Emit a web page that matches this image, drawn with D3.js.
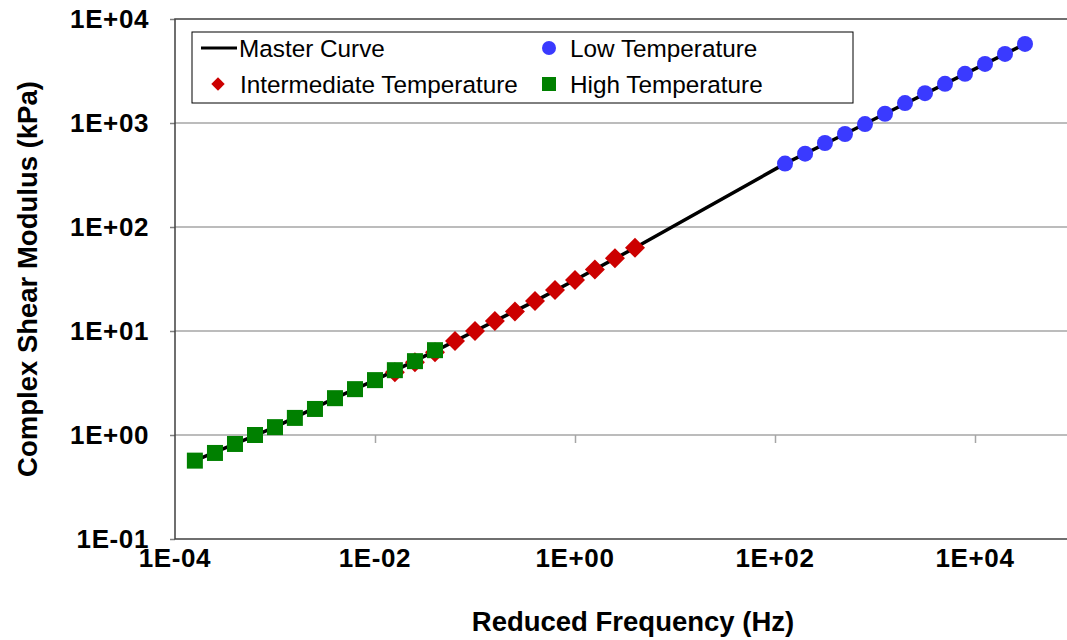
<!DOCTYPE html>
<html>
<head>
<meta charset="utf-8">
<script src="https://cdn.jsdelivr.net/npm/d3@7"></script>
<style>
  body { margin: 0; background: #fff; }
  svg { display: block; font-family: Arial, "Liberation Sans", sans-serif; }
</style>
</head>
<body>
<div id="chart"></div>
<script>
// data
const highFreq = [1.58e-4, 2.51e-4, 3.98e-4, 6.31e-4, 1e-3, 1.58e-3, 2.51e-3, 3.98e-3, 6.31e-3, 1e-2, 1.58e-2, 2.51e-2, 3.98e-2];
const highG = [0.567, 0.672, 0.82, 1.0, 1.19, 1.46, 1.78, 2.26, 2.76, 3.37, 4.2, 5.13, 6.54];

const interFreq = [1.58e-2, 2.51e-2, 3.98e-2, 6.31e-2, 0.1, 0.158, 0.251, 0.398, 0.631, 1, 1.58, 2.51, 3.98];
const interG = [4.02, 5.01, 6.25, 8.03, 10.0, 12.5, 15.4, 19.4, 24.8, 30.9, 39.1, 50.2, 63.1];

const lowFreq = [126, 200, 316, 501, 794, 1259, 1995, 3162, 5012, 7943, 12589, 19953, 31623];
const lowG = [407, 507, 642, 784, 977, 1227, 1553, 1937, 2380, 2970, 3700, 4616, 5758];

const masterFreq = [1.58e-4, 3.98e-4, 1e-3, 3.98e-3, 1e-2, 3.98e-2, 0.1, 0.398, 1, 3.98, 126, 501, 1259, 5012, 31623];
const masterG = [0.567, 0.82, 1.19, 2.26, 3.37, 6.4, 10.0, 19.4, 30.9, 63.1, 407, 784, 1227, 2380, 5758];

const xTicks = [1e-4, 1e-2, 1e0, 1e2, 1e4];
const yTicks = [1e-1, 1e0, 1e1, 1e2, 1e3, 1e4];

const W = 1067, H = 640;
const mLeft = 175, mTop = 19, mBottom = 539, mRight = 1075;

function fmtE(v) {
    let e = Math.round(Math.log10(v));
    let s = e < 0 ? '-' : '+';
    return '1E' + s + String(Math.abs(e)).padStart(2, '0');
}

let svg = d3.select('#chart').append('svg')
    .attr('width', W)
    .attr('height', H);

let x = d3.scaleLog().domain([1e-4, 1e5]).range([mLeft, mRight]);
let y = d3.scaleLog().domain([0.1, 1e4]).range([mBottom, mTop]);

// horizontal gridlines
svg.append('g')
    .selectAll('line')
    .data(yTicks.slice(1, -1))
    .enter()
    .append('line')
    .attr('x1', mLeft).attr('x2', W)
    .attr('y1', d => y(d)).attr('y2', d => y(d))
    .attr('stroke', '#a6a6a6')
    .attr('stroke-width', 1.5);

// x axis sits at 1E+00
let xAxis = d3.axisBottom(x).tickValues(xTicks.slice(1)).tickSize(8).tickFormat('');
svg.append('g')
    .attr('transform', 'translate(0,' + y(1) + ')')
    .call(xAxis)
    .call(g => g.select('.domain').remove())
    .call(g => g.selectAll('line').attr('stroke', '#a6a6a6').attr('stroke-width', 1.5));

// y axis
let yAxis = d3.axisLeft(y).tickValues(yTicks).tickSize(5).tickFormat('');
svg.append('g')
    .attr('transform', 'translate(' + mLeft + ',0)')
    .call(yAxis)
    .call(g => g.select('.domain').remove())
    .call(g => g.selectAll('line').attr('stroke', '#808080').attr('stroke-width', 1.5));

// plot frame
svg.append('path')
    .attr('d', 'M' + W + ',' + mTop + 'H' + mLeft + 'V' + mBottom + 'H' + W)
    .attr('fill', 'none')
    .attr('stroke', '#404040')
    .attr('stroke-width', 1.5);

// tick labels
svg.append('g')
    .selectAll('text')
    .data(xTicks)
    .enter()
    .append('text')
    .attr('x', d => x(d))
    .attr('y', 567)
    .attr('text-anchor', 'middle')
    .attr('font-size', 26)
    .attr('font-weight', 'bold')
    .attr('letter-spacing', 0.6)
    .text(fmtE);

svg.append('g')
    .selectAll('text')
    .data(yTicks)
    .enter()
    .append('text')
    .attr('x', 149)
    .attr('y', d => y(d))
    .attr('dy', '0.36em')
    .attr('text-anchor', 'end')
    .attr('font-size', 26)
    .attr('font-weight', 'bold')
    .attr('letter-spacing', 0.6)
    .text(fmtE);

// axis titles
svg.append('text')
    .attr('x', 633)
    .attr('y', 631)
    .attr('text-anchor', 'middle')
    .attr('font-size', 27.5)
    .attr('font-weight', 'bold')
    .text('Reduced Frequency (Hz)');

svg.append('text')
    .attr('transform', 'translate(37,279) rotate(-90)')
    .attr('text-anchor', 'middle')
    .attr('font-size', 27.5)
    .attr('font-weight', 'bold')
    .text('Complex Shear Modulus (kPa)');

// master curve
let masterData = masterFreq.map((f, i) => [f, masterG[i]]);
let line = d3.line()
    .x(d => x(d[0]))
    .y(d => y(d[1]));
svg.append('path')
    .datum(masterData)
    .attr('d', line)
    .attr('fill', 'none')
    .attr('stroke', '#000')
    .attr('stroke-width', 3.5)
    .attr('stroke-linejoin', 'round');

// markers
let diamond = d3.symbol().type(d3.symbolSquare).size(200);

svg.append('g')
    .selectAll('path')
    .data(interFreq.map((f, i) => [f, interG[i]]))
    .enter()
    .append('path')
    .attr('d', diamond)
    .attr('transform', d => 'translate(' + x(d[0]) + ',' + y(d[1]) + ') rotate(45)')
    .attr('fill', '#cc0000');

svg.append('g')
    .selectAll('rect')
    .data(highFreq.map((f, i) => [f, highG[i]]))
    .enter()
    .append('rect')
    .attr('x', d => x(d[0]) - 8)
    .attr('y', d => y(d[1]) - 8)
    .attr('width', 16)
    .attr('height', 16)
    .attr('fill', '#008000');

svg.append('g')
    .selectAll('circle')
    .data(lowFreq.map((f, i) => [f, lowG[i]]))
    .enter()
    .append('circle')
    .attr('cx', d => x(d[0]))
    .attr('cy', d => y(d[1]))
    .attr('r', 8)
    .attr('fill', '#3a3aff');

// legend
let lg = svg.append('g');
lg.append('rect')
    .attr('x', 192).attr('y', 32)
    .attr('width', 661).attr('height', 71)
    .attr('fill', '#fff')
    .attr('stroke', '#000')
    .attr('stroke-width', 1);

lg.append('line')
    .attr('x1', 201).attr('x2', 237)
    .attr('y1', 48).attr('y2', 48)
    .attr('stroke', '#000').attr('stroke-width', 3);
lg.append('path')
    .attr('d', d3.symbol().type(d3.symbolSquare).size(90))
    .attr('transform', 'translate(218,84) rotate(45)')
    .attr('fill', '#cc0000');
lg.append('circle')
    .attr('cx', 549).attr('cy', 48).attr('r', 7)
    .attr('fill', '#3a3aff');
lg.append('rect')
    .attr('x', 542).attr('y', 77).attr('width', 14).attr('height', 14)
    .attr('fill', '#008000');

let legendItems = [
    {label: 'Master Curve', x: 239, y: 48},
    {label: 'Intermediate Temperature', x: 240, y: 84},
    {label: 'Low Temperature', x: 570, y: 48},
    {label: 'High Temperature', x: 570, y: 84}
];
lg.selectAll('text.lbl')
    .data(legendItems)
    .enter()
    .append('text')
    .attr('class', 'lbl')
    .attr('x', d => d.x)
    .attr('y', d => d.y)
    .attr('dy', '0.36em')
    .attr('font-size', 24.3)
    .text(d => d.label);
</script>
</body>
</html>
